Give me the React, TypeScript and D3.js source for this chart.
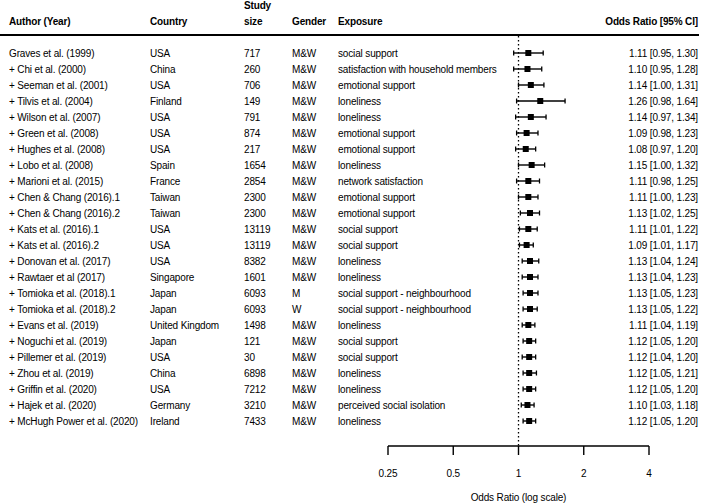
import React from "react";
import * as d3 from "d3";

const authors = [
  "Graves et al. (1999)", "+ Chi et al. (2000)", "+ Seeman et al. (2001)", "+ Tilvis et al. (2004)",
  "+ Wilson et al. (2007)", "+ Green et al. (2008)", "+ Hughes et al. (2008)", "+ Lobo et al. (2008)",
  "+ Marioni et al. (2015)", "+ Chen & Chang (2016).1", "+ Chen & Chang (2016).2", "+ Kats et al. (2016).1",
  "+ Kats et al. (2016).2", "+ Donovan et al. (2017)", "+ Rawtaer et al (2017)", "+ Tomioka et al. (2018).1",
  "+ Tomioka et al. (2018).2", "+ Evans et al. (2019)", "+ Noguchi et al. (2019)", "+ Pillemer et al. (2019)",
  "+ Zhou et al. (2019)", "+ Griffin et al. (2020)", "+ Hajek et al. (2020)", "+ McHugh Power et al. (2020)",
];
const countries = [
  "USA", "China", "USA", "Finland", "USA", "USA", "USA", "Spain", "France", "Taiwan", "Taiwan", "USA",
  "USA", "USA", "Singapore", "Japan", "Japan", "United Kingdom", "Japan", "USA", "China", "USA", "Germany", "Ireland",
];
const sizes = [
  "717", "260", "706", "149", "791", "874", "217", "1654", "2854", "2300", "2300", "13119",
  "13119", "8382", "1601", "6093", "6093", "1498", "121", "30", "6898", "7212", "3210", "7433",
];
const genders = [
  "M&W", "M&W", "M&W", "M&W", "M&W", "M&W", "M&W", "M&W", "M&W", "M&W", "M&W", "M&W",
  "M&W", "M&W", "M&W", "M", "W", "M&W", "M&W", "M&W", "M&W", "M&W", "M&W", "M&W",
];
const exposures = [
  "social support", "satisfaction with household members", "emotional support", "loneliness",
  "loneliness", "emotional support", "emotional support", "loneliness", "network satisfaction",
  "emotional support", "emotional support", "social support", "social support", "loneliness",
  "loneliness", "social support - neighbourhood", "social support - neighbourhood", "loneliness",
  "social support", "social support", "loneliness", "loneliness", "perceived social isolation", "loneliness",
];
const orValues = [1.11, 1.10, 1.14, 1.26, 1.14, 1.09, 1.08, 1.15, 1.11, 1.11, 1.13, 1.11, 1.09, 1.13, 1.13, 1.13, 1.13, 1.11, 1.12, 1.12, 1.12, 1.12, 1.10, 1.12];
const ciLower = [0.95, 0.95, 1.00, 0.98, 0.97, 0.98, 0.97, 1.00, 0.98, 1.00, 1.02, 1.01, 1.01, 1.04, 1.04, 1.05, 1.05, 1.04, 1.05, 1.04, 1.05, 1.05, 1.03, 1.05];
const ciUpper = [1.30, 1.28, 1.31, 1.64, 1.34, 1.23, 1.20, 1.32, 1.25, 1.23, 1.25, 1.22, 1.17, 1.24, 1.23, 1.23, 1.22, 1.19, 1.20, 1.20, 1.21, 1.20, 1.18, 1.20];
const tickValues = [0.25, 0.5, 1, 2, 4];
const tickLabels = ["0.25", "0.5", "1", "2", "4"];

const W = 708;
const H = 504;
const FONT = "'Liberation Sans', Arial, sans-serif";

export default function App() {
  const x = d3.scaleLog().base(2).domain([0.25, 4]).range([388, 649]);
  const y = d3.scaleLinear().domain([0, authors.length - 1]).range([53, 421]);
  const fs = 10;
  const axisY = 446;
  const fmt = d3.format(".2f");
  const colX = { author: 9, country: 150, size: 244, gender: 292, exposure: 338, or: 698 };
  return (
    <svg width={W} height={H} style={{ position: "absolute", left: 0, top: 0, background: "#fff" }} fontFamily={FONT} fontSize={fs} letterSpacing={-0.15}>
      <rect width={W} height={H} fill="#fff" />
      {/* header */}
      <g fontWeight="bold">
        <text x={colX.author} y={21} dy="0.35em">Author (Year)</text>
        <text x={colX.country} y={21} dy="0.35em">Country</text>
        <text x={colX.size} y={5} dy="0.35em">Study</text>
        <text x={colX.size} y={21} dy="0.35em">size</text>
        <text x={colX.gender} y={21} dy="0.35em">Gender</text>
        <text x={colX.exposure} y={21} dy="0.35em">Exposure</text>
        <text x={colX.or} y={21} dy="0.35em" textAnchor="end">Odds Ratio [95% CI]</text>
      </g>
      <line x1={0} x2={699} y1={35} y2={35} stroke="#000" strokeWidth={2} />
      {/* reference line */}
      <line x1={x(1)} x2={x(1)} y1={36} y2={axisY} stroke="#000" strokeWidth={1.3} strokeDasharray="1.5,2.5" />
      {authors.map((a, i) => {
        const yy = y(i);
        const x0 = x(ciLower[i]);
        const x1 = x(ciUpper[i]);
        const xm = x(orValues[i]);
        return (
          <g key={i}>
            <text x={colX.author} y={yy} dy="0.35em">{a}</text>
            <text x={colX.country} y={yy} dy="0.35em">{countries[i]}</text>
            <text x={colX.size} y={yy} dy="0.35em">{sizes[i]}</text>
            <text x={colX.gender} y={yy} dy="0.35em">{genders[i]}</text>
            <text x={colX.exposure} y={yy} dy="0.35em">{exposures[i]}</text>
            <text x={colX.or} y={yy} dy="0.35em" textAnchor="end">
              {`${fmt(orValues[i])} [${fmt(ciLower[i])}, ${fmt(ciUpper[i])}]`}
            </text>
            <line x1={x0} x2={x1} y1={yy} y2={yy} stroke="#000" strokeWidth={1.4} />
            <line x1={x0} x2={x0} y1={yy - 2.5} y2={yy + 2.5} stroke="#000" strokeWidth={1.3} />
            <line x1={x1} x2={x1} y1={yy - 2.5} y2={yy + 2.5} stroke="#000" strokeWidth={1.3} />
            <rect x={xm - 3} y={yy - 3} width={6} height={6} fill="#000" />
          </g>
        );
      })}
      {/* axis */}
      <line x1={x(0.25)} x2={x(4)} y1={axisY} y2={axisY} stroke="#000" strokeWidth={1.4} />
      {tickValues.map((t, i) => (
        <g key={t}>
          <line x1={x(t)} x2={x(t)} y1={axisY} y2={axisY + 9} stroke="#000" strokeWidth={1.4} />
          <text x={x(t)} y={473} dy="0.35em" textAnchor="middle">{tickLabels[i]}</text>
        </g>
      ))}
      <text x={x(1)} y={497} dy="0.35em" textAnchor="middle">Odds Ratio (log scale)</text>
    </svg>
  );
}
